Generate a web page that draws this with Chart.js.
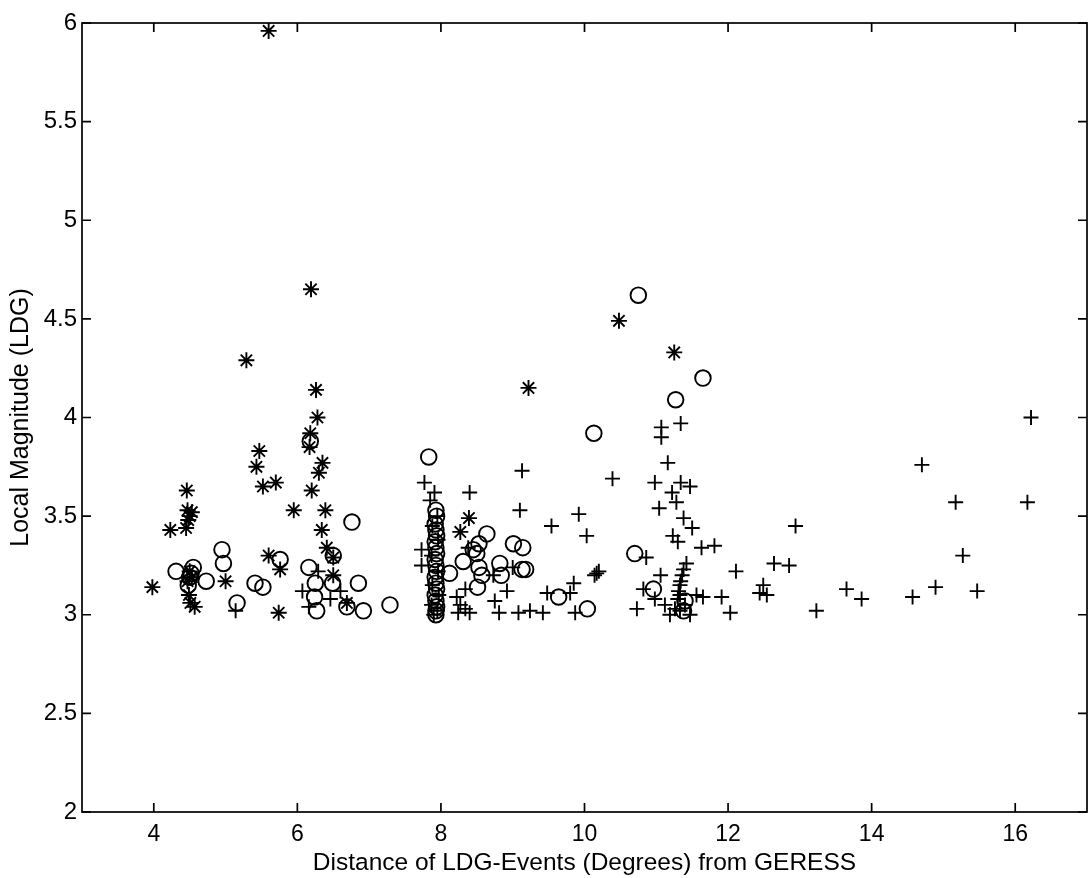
<!DOCTYPE html>
<html>
<head>
<meta charset="utf-8">
<title>LDG magnitude vs distance</title>
<script src="https://cdn.jsdelivr.net/npm/chart.js@4/dist/chart.umd.min.js"></script>
<style>
  html, body { margin: 0; padding: 0; background: #fff; }
  #wrap { width: 1088px; height: 878px; position: relative; }
</style>
</head>
<body>
<div id="wrap"><canvas id="chart"></canvas></div>
<script>
// tick positions on both axes
const xTicks = [4, 6, 8, 10, 12, 14, 16];
const yTicks = [2, 2.5, 3, 3.5, 4, 4.5, 5, 5.5, 6];

// '*' events  [distance (deg), local magnitude]
const starPoints = [
    [5.60, 5.96], [6.19, 4.65], [5.29, 4.29], [6.26, 4.14], [6.28, 4.00], [6.18, 3.92],
    [6.17, 3.85], [5.47, 3.83], [5.43, 3.75], [5.52, 3.65], [5.70, 3.67], [6.35, 3.77],
    [6.30, 3.72], [6.20, 3.63], [4.46, 3.63], [4.47, 3.53], [4.50, 3.50], [4.48, 3.48],
    [4.53, 3.52], [4.23, 3.43], [4.45, 3.44], [5.95, 3.53], [6.39, 3.53], [6.34, 3.43],
    [6.41, 3.34], [6.50, 3.29], [5.60, 3.30], [5.76, 3.23], [3.98, 3.14], [4.50, 3.22],
    [4.53, 3.19], [4.47, 3.17], [5.00, 3.17], [4.49, 3.10], [4.51, 3.06], [4.57, 3.04],
    [5.74, 3.01], [6.50, 3.20], [6.69, 3.06], [8.39, 3.49], [8.27, 3.42], [9.22, 4.15],
    [10.48, 4.49], [11.25, 4.33]
];

// 'o' events
const circlePoints = [
    [6.76, 3.47], [4.95, 3.33], [4.97, 3.26], [5.76, 3.28], [4.31, 3.22], [4.55, 3.24],
    [4.73, 3.17], [5.41, 3.16], [5.52, 3.14], [6.16, 3.24], [6.25, 3.16], [6.50, 3.30],
    [6.49, 3.16], [5.16, 3.06], [6.24, 3.09], [6.27, 3.02], [6.69, 3.04], [6.85, 3.16],
    [6.92, 3.02], [4.48, 3.15], [4.52, 3.21], [4.50, 3.19], [6.18, 3.88], [7.29, 3.05],
    [7.83, 3.80], [10.13, 3.92], [10.75, 4.62], [11.65, 4.20], [11.27, 4.09],
    [7.93, 3.53], [7.94, 3.50], [7.92, 3.46], [7.93, 3.43], [7.94, 3.40], [7.92, 3.37],
    [7.93, 3.34], [7.94, 3.31], [7.92, 3.28], [7.93, 3.25], [7.94, 3.22], [7.92, 3.19],
    [7.93, 3.16], [7.94, 3.13], [7.92, 3.10], [7.93, 3.07], [7.94, 3.04], [7.93, 3.02],
    [7.93, 3.00], [8.12, 3.21], [8.31, 3.27], [8.64, 3.41], [8.53, 3.36], [8.45, 3.33],
    [8.50, 3.31], [8.53, 3.24], [8.57, 3.20], [8.51, 3.14], [9.01, 3.36], [9.14, 3.34],
    [8.82, 3.26], [8.84, 3.20], [9.13, 3.23], [9.18, 3.23], [9.64, 3.09], [10.04, 3.03],
    [10.70, 3.31], [10.96, 3.13], [11.40, 3.07], [11.38, 3.02]
];

// '+' events
const plusPoints = [
    [5.14, 3.02], [6.07, 3.12], [6.29, 3.22], [6.60, 3.12], [6.46, 3.08], [6.16, 3.04],
    [7.77, 3.67], [7.91, 3.62], [8.40, 3.62], [9.13, 3.73], [9.10, 3.53], [9.54, 3.45],
    [9.92, 3.51], [10.03, 3.40], [10.17, 3.21], [7.73, 3.33], [7.73, 3.25], [8.38, 3.34],
    [8.73, 3.20], [9.00, 3.24], [8.92, 3.12], [8.75, 3.07], [8.81, 3.01], [9.08, 3.01],
    [9.24, 3.02], [9.42, 3.01], [9.48, 3.11], [9.85, 3.16], [9.80, 3.11], [9.87, 3.01],
    [8.22, 3.09], [8.27, 3.05], [8.34, 3.03], [8.40, 3.01], [8.24, 3.01], [8.34, 3.13],
    [11.34, 3.97], [11.07, 3.95], [11.07, 3.90], [11.16, 3.77], [10.39, 3.69], [10.98, 3.67],
    [11.34, 3.67], [11.47, 3.65], [11.22, 3.62], [11.28, 3.57], [11.04, 3.54], [11.38, 3.49],
    [11.50, 3.44], [11.23, 3.40], [11.30, 3.37], [11.63, 3.34], [11.81, 3.35], [10.86, 3.29],
    [12.11, 3.22], [10.20, 3.22], [10.14, 3.20], [11.42, 3.26], [11.38, 3.23], [11.36, 3.20],
    [11.34, 3.17], [11.33, 3.15], [11.31, 3.12], [11.33, 3.10], [11.30, 3.08], [11.06, 3.20],
    [10.82, 3.13], [10.73, 3.03], [10.98, 3.08], [11.12, 3.05], [11.26, 3.03], [11.33, 3.02],
    [11.40, 3.05], [11.47, 3.00], [11.19, 3.00], [11.56, 3.10], [11.65, 3.09], [11.91, 3.09],
    [12.03, 3.01], [12.94, 3.45], [12.64, 3.26], [12.85, 3.25], [12.49, 3.15], [12.54, 3.10],
    [12.44, 3.11], [13.23, 3.02], [13.65, 3.13], [13.86, 3.08], [16.22, 4.00], [14.70, 3.76],
    [15.17, 3.57], [16.17, 3.57], [15.27, 3.30], [14.57, 3.09], [14.89, 3.14], [15.47, 3.12],
    [7.85, 3.58], [7.95, 3.50], [7.88, 3.45], [7.96, 3.38], [7.87, 3.30], [7.96, 3.22],
    [7.88, 3.15], [7.97, 3.10], [7.87, 3.05], [7.95, 3.02], [7.90, 3.00]
];

const toXY = pts => pts.map(p => ({ x: p[0], y: p[1] }));

// matlab style box: frame plus inward ticks on all four sides
const boxPlugin = {
    id: 'boxPlugin',
    afterDraw(chart) {
        const { ctx, chartArea: a, scales } = chart;
        const len = 9;
        ctx.save();
        ctx.strokeStyle = '#000';
        ctx.lineWidth = 1.7;
        ctx.strokeRect(a.left, a.top, a.right - a.left, a.bottom - a.top);
        ctx.beginPath();
        xTicks.forEach(v => {
            const px = scales.x.getPixelForValue(v);
            ctx.moveTo(px, a.bottom); ctx.lineTo(px, a.bottom - len);
            ctx.moveTo(px, a.top); ctx.lineTo(px, a.top + len);
        });
        yTicks.forEach(v => {
            const py = scales.y.getPixelForValue(v);
            ctx.moveTo(a.left, py); ctx.lineTo(a.left + len, py);
            ctx.moveTo(a.right, py); ctx.lineTo(a.right - len, py);
        });
        ctx.stroke();
        ctx.restore();
    }
};

const markerBase = {
    borderColor: '#000',
    backgroundColor: 'rgba(0,0,0,0)',
    borderWidth: 1.9,
    pointRadius: 7.5,
    pointHoverRadius: 7.5
};

const fontFamily = '"Liberation Sans", Arial, Helvetica, sans-serif';

new Chart(document.getElementById('chart'), {
    type: 'scatter',
    data: {
        datasets: [
            { ...markerBase, label: '*', data: toXY(starPoints), pointStyle: 'star', pointRadius: 8 },
            { ...markerBase, label: 'o', data: toXY(circlePoints), pointStyle: 'circle', pointRadius: 7.8 },
            { ...markerBase, label: '+', data: toXY(plusPoints), pointStyle: 'cross' }
        ]
    },
    options: {
        responsive: true,
        maintainAspectRatio: false,
        animation: false,
        layout: { autoPadding: false, padding: { top: 23, right: 1, bottom: 0, left: 0 } },
        plugins: {
            legend: { display: false },
            tooltip: { enabled: false }
        },
        scales: {
            x: {
                type: 'linear',
                min: 3,
                max: 17,
                afterBuildTicks: s => { s.ticks = xTicks.map(v => ({ value: v })); },
                afterFit: s => { s.height = 66; s.paddingLeft = 0; s.paddingRight = 0; },
                grid: { display: false, drawTicks: false },
                border: { display: false },
                ticks: {
                    color: '#000',
                    padding: 9,
                    maxRotation: 0,
                    font: { family: fontFamily, size: 23 }
                },
                title: {
                    display: true,
                    text: 'Distance of LDG-Events (Degrees) from GERESS',
                    color: '#000',
                    padding: { top: 0, bottom: 0 },
                    font: { family: fontFamily, size: 24.5 }
                }
            },
            y: {
                type: 'linear',
                min: 2,
                max: 6,
                afterBuildTicks: s => { s.ticks = yTicks.map(v => ({ value: v })); },
                afterFit: s => { s.width = 82; s.paddingTop = 0; s.paddingBottom = 0; },
                grid: { display: false, drawTicks: false },
                border: { display: false },
                ticks: {
                    color: '#000',
                    padding: 5,
                    font: { family: fontFamily, size: 24 },
                    callback: v => String(v)
                },
                title: {
                    display: true,
                    text: 'Local Magnitude (LDG)',
                    color: '#000',
                    padding: { top: 6, bottom: 0 },
                    font: { family: fontFamily, size: 25 }
                }
            }
        }
    },
    plugins: [boxPlugin]
});
</script>
</body>
</html>
